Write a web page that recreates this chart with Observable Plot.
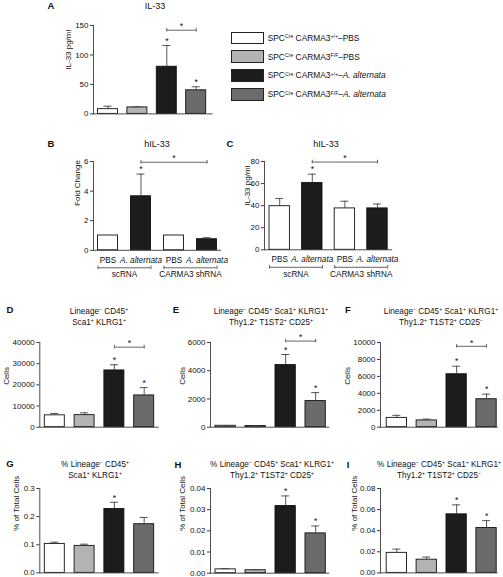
<!DOCTYPE html>
<html><head><meta charset="utf-8">
<script src="https://cdn.jsdelivr.net/npm/d3@7"></script>
<script src="https://cdn.jsdelivr.net/npm/@observablehq/plot@0.6"></script>
<style>
body{margin:0;background:#fff;}
#fig{position:relative;width:503px;height:577px;overflow:hidden;background:#fff;font-family:'Liberation Sans',Arial,Helvetica,sans-serif;color:#111;}
.lab{position:absolute;white-space:nowrap;}
.letter{font-weight:bold;font-size:9.5px;line-height:1;transform:translate(-50%,-50%);}
.title{font-size:8.2px;line-height:11px;text-align:center;transform:translateX(-50%);}
.title.big{font-size:9px;}
sup{font-size:0.62em;vertical-align:0;position:relative;top:-0.5em;line-height:0;}
.leg{font-size:8.4px;line-height:1;transform:translateY(-50%);}
.sw{position:absolute;border:1px solid #222;box-sizing:border-box;}
.pbox{position:absolute;}
</style></head><body><div id="fig"></div><script>
// ---------- data ----------
const mouseCats = ["WT-PBS", "FF-PBS", "WT-Alt", "FF-Alt"];
const legendLabels = ["SPC^{Cre} CARMA3^{+/+}–PBS", "SPC^{Cre} CARMA3^{F/F}–PBS", "SPC^{Cre} CARMA3^{+/+}–_{A. alternata}", "SPC^{Cre} CARMA3^{F/F}–_{A. alternata}"];
const mouseFills = ["#ffffff", "#b3b3b3", "#1c1c1c", "#6b6b6b"];

const cellCats = ["sc-PBS", "sc-Alt", "sh-PBS", "sh-Alt"];
const cellTickLabels = ["PBS", "A. alternata", "PBS", "A. alternata"];
const cellTickItalic = [false, true, false, true];
const cellGroups = ["scRNA", "CARMA3 shRNA"];
const cellGroupFirst = [0, 2];
const cellFills = ["#ffffff", "#1c1c1c", "#ffffff", "#1c1c1c"];

const aMean = [8, 11, 80, 40];        const aErr = [5, 1, 36, 6];
const aStar = [0, 0, 1, 1];           const aBracket = [2, 3, 142];
const aTicks = [0, 50, 100, 150];

const bMean = [1, 3.65, 1, 0.75];     const bErr = [0, 1.5, 0, 0.1];
const bStar = [0, 1, 0, 0];           const bBracket = [1, 3, 5.95];
const bTicks = [0, 2, 4, 6];

const cMean = [39.5, 60.5, 37.5, 37.5]; const cErr = [7, 8, 6.5, 4];
const cStar = [0, 1, 0, 0];           const cBracket = [1, 3, 79.5];
const cTicks = [0, 20, 40, 60, 80];

const dMean = [5600, 5700, 26800, 15000]; const dErr = [900, 1100, 2700, 3700];
const dStar = [0, 0, 1, 1];           const dBracket = [2, 3, 37800];
const dTicks = [0, 10000, 20000, 30000, 40000];

const eMean = [100, 80, 4400, 1850];  const eErr = [10, 10, 750, 600];
const eStar = [0, 0, 1, 1];           const eBracket = [2, 3, 6100];
const eTicks = [0, 2000, 4000, 6000];

const fMean = [1100, 800, 6250, 3300]; const fErr = [300, 150, 950, 600];
const fStar = [0, 0, 1, 1];           const fBracket = [2, 3, 9550];
const fTicks = [0, 2000, 4000, 6000, 8000, 10000];

const gMean = [0.103, 0.096, 0.227, 0.173]; const gErr = [0.006, 0.006, 0.024, 0.024];
const gStar = [0, 0, 1, 0];
const gTicks = [0, 0.1, 0.2, 0.3];

const hMean = [0.0018, 0.0014, 0.0317, 0.0188]; const hErr = [0.0004, 0.0003, 0.0048, 0.0035];
const hStar = [0, 0, 1, 1];
const hTicks = [0, 0.01, 0.02, 0.03, 0.04];

const iMean = [0.019, 0.0125, 0.0555, 0.0425]; const iErr = [0.0035, 0.0025, 0.009, 0.007];
const iStar = [0, 0, 1, 1];
const iTicks = [0, 0.02, 0.04, 0.06, 0.08];

const titles = {
  A: "IL-33", B: "hIL-33", C: "hIL-33",
  D: "Lineage^{−} CD45^{+}\nSca1^{+} KLRG1^{+}",
  E: "Lineage^{−} CD45^{+} Sca1^{+} KLRG1^{+}\nThy1.2^{+} T1ST2^{+} CD25^{+}",
  F: "Lineage^{−} CD45^{+} Sca1^{+} KLRG1^{+}\nThy1.2^{+} T1ST2^{+} CD25^{−}",
  G: "% Lineage^{−} CD45^{+}\nSca1^{+} KLRG1^{+}",
  H: "% Lineage^{−} CD45^{+} Sca1^{+} KLRG1^{+}\nThy1.2^{+} T1ST2^{+} CD25^{+}",
  I: "% Lineage^{−} CD45^{+} Sca1^{+} KLRG1^{+}\nThy1.2^{+} T1ST2^{+} CD25^{−}"
};
const yLabels = {A: "IL-33 pg/ml", B: "Fold Change", C: "IL-33 pg/ml", D: "Cells", E: "Cells", F: "Cells",
  G: "% of Total Cells", H: "% of Total Cells", I: "% of Total Cells"};

// ---------- helpers ----------
const FONT = "'Liberation Sans', Arial, Helvetica, sans-serif";
const fig = document.getElementById("fig");
function md(s) {
  return s.replace(/\^\{([^}]*)\}/g, "<sup>$1</sup>").replace(/_\{([^}]*)\}/g, "<i>$1</i>").replace(/\n/g, "<br>");
}
function label(html, x, y, cls) {
  const d = document.createElement("div");
  d.className = "lab " + cls;
  d.style.left = x + "px"; d.style.top = y + "px";
  d.innerHTML = html;
  fig.appendChild(d);
}

function panel(cfg) {
  const {fx, fy0, fy1, step, bw, gl, gr, domain, ticks, fmt, cats, means, errs, fills, stars, bracket, ylab, ylabOff, xlab} = cfg;
  const W = 3 * step + bw + gl + gr;
  const H = fy1 - fy0;
  const ml = Math.min(60, fx), mr = 14, mt = 26, mb = 40;
  const data = cats.map((c, i) => ({c, v: means[i], e: errs[i], f: fills[i], s: stars[i], i}));
  const withErr = data.filter(d => d.e > 0);
  const ax = "#3a3a3a";
  const marks = [
    Plot.barY(data, {x: "c", y: "v", fill: "f", stroke: "#111", strokeWidth: 0.9}),
    Plot.ruleX(withErr, {x: "c", y1: "v", y2: d => d.v + d.e, stroke: "#444", strokeWidth: 0.9}),
    Plot.tickY(withErr, {x: "c", y: d => d.v + d.e, stroke: "#444", strokeWidth: 0.9, insetLeft: (bw - 8) / 2, insetRight: (bw - 8) / 2}),
    Plot.text(data.filter(d => d.s), {x: "c", y: d => d.v + d.e, text: () => "*", dy: -4.5, fontSize: 8.5, fill: "#111"}),
    Plot.ruleY([0], {stroke: ax, strokeWidth: 0.9}),
    Plot.frame({anchor: "left", stroke: ax, strokeWidth: 0.9}),
    Plot.axisY({ticks, tickFormat: fmt, tickSize: 3, tickPadding: 2, fontSize: 8, label: null, stroke: ax}),
    Plot.text([ylab], {frameAnchor: "left", rotate: -90, dx: -ylabOff, fontSize: 8, fill: "#111"})
  ];
  if (bracket) {
    const [a, b, h] = bracket;
    const bd = [{c: cats[a], y: h}, {c: cats[b], y: h}];
    marks.push(
      Plot.line(bd, {x: "c", y: "y", stroke: "#555", strokeWidth: 0.9}),
      Plot.ruleX(bd, {x: "c", y1: "y", y2: "y", insetTop: -1.8, insetBottom: -1.8, stroke: "#555", strokeWidth: 0.9}),
      Plot.text([bd[0]], {x: "c", y: "y", text: () => "*", dx: (b - a) * step / 2, dy: -3.5, fontSize: 8.5, fill: "#111"})
    );
  }
  if (xlab) {
    const td = cats.map((c, i) => ({c, t: cellTickLabels[i], it: cellTickItalic[i]}));
    const gd = cellGroups.map((g, k) => ({g, a: cats[cellGroupFirst[k]], b: cats[cellGroupFirst[k] + 1]}));
    marks.push(
      Plot.text(td.filter(d => !d.it), {x: "c", y: () => 0, text: "t", dy: 10, fontSize: 8.2, fill: "#111"}),
      Plot.text(td.filter(d => d.it), {x: "c", y: () => 0, text: "t", dy: 10, fontSize: 8.2, fontStyle: "italic", fill: "#111"}),
      Plot.ruleY(gd, {x1: "a", x2: "b", y: () => 0, dy: 17.5, stroke: "#555", strokeWidth: 0.9}),
      Plot.ruleX(gd, {x: "a", y1: () => 0, y2: () => 0, dy: 17.5, dx: -bw / 2, insetTop: -1.8, insetBottom: -1.8, stroke: "#555", strokeWidth: 0.9}),
      Plot.ruleX(gd, {x: "b", y1: () => 0, y2: () => 0, dy: 17.5, dx: bw / 2, insetTop: -1.8, insetBottom: -1.8, stroke: "#555", strokeWidth: 0.9}),
      Plot.text(gd, {x: "a", y: () => 0, text: "g", dx: step / 2, dy: 24.5, fontSize: 8.2, fill: "#111"})
    );
  }
  const chart = Plot.plot({
    width: ml + W + mr, height: mt + H + mb,
    marginLeft: ml, marginRight: mr, marginTop: mt, marginBottom: mb,
    style: {fontFamily: FONT, fontSize: "8px", background: "transparent", overflow: "visible", color: "#111"},
    x: {type: "band", domain: cats, paddingInner: (step - bw) / step, paddingOuter: (gl + gr) / (2 * step), align: gl / (gl + gr), round: false, axis: null},
    y: {domain, nice: false, axis: null},
    color: {type: "identity"},
    marks
  });
  const box = document.createElement("div");
  box.className = "pbox";
  box.style.left = (fx - ml) + "px";
  box.style.top = (fy0 - mt) + "px";
  box.style.width = (ml + W + mr) + "px";
  box.appendChild(chart);
  fig.appendChild(box);
}

// ---------- layout ----------
const f0 = d => String(d);
const f1 = d3.format(".1f"), f2 = d3.format(".2f");
panel({fx: 92.5, fy0: 25.3, fy1: 113.7, step: 29.4, bw: 20, gl: 4.5, gr: 7, domain: [0, 150], ticks: aTicks, fmt: f0,
  cats: mouseCats, means: aMean, errs: aErr, fills: mouseFills, stars: aStar, bracket: aBracket, ylab: yLabels.A, ylabOff: 25.5});
panel({fx: 92.5, fy0: 160.5, fy1: 249.3, step: 33, bw: 20, gl: 4.5, gr: 4.5, domain: [0, 6], ticks: bTicks, fmt: f0,
  cats: cellCats, means: bMean, errs: bErr, fills: cellFills, stars: bStar, bracket: bBracket, ylab: yLabels.B, ylabOff: 16.5, xlab: true});
panel({fx: 264, fy0: 161, fy1: 249.3, step: 32.6, bw: 20.4, gl: 5, gr: 5, domain: [0, 80], ticks: cTicks, fmt: f0,
  cats: cellCats, means: cMean, errs: cErr, fills: cellFills, stars: cStar, bracket: cBracket, ylab: yLabels.C, ylabOff: 17, xlab: true});
panel({fx: 39.3, fy0: 342, fy1: 426.7, step: 29.8, bw: 20, gl: 5, gr: 5, domain: [0, 40000], ticks: dTicks, fmt: f0,
  cats: mouseCats, means: dMean, errs: dErr, fills: mouseFills, stars: dStar, bracket: dBracket, ylab: yLabels.D, ylabOff: 33});
panel({fx: 210, fy0: 342, fy1: 426.7, step: 30, bw: 20.3, gl: 5, gr: 4, domain: [0, 6000], ticks: eTicks, fmt: f0,
  cats: mouseCats, means: eMean, errs: eErr, fills: mouseFills, stars: eStar, bracket: eBracket, ylab: yLabels.E, ylabOff: 28.5});
panel({fx: 379.5, fy0: 342, fy1: 426.7, step: 29.9, bw: 20.3, gl: 6.2, gr: 1.5, domain: [0, 10000], ticks: fTicks, fmt: f0,
  cats: mouseCats, means: fMean, errs: fErr, fills: mouseFills, stars: fStar, bracket: fBracket, ylab: yLabels.F, ylabOff: 33.5});
panel({fx: 39.3, fy0: 488.3, fy1: 572.7, step: 29.8, bw: 20, gl: 5, gr: 5, domain: [0, 0.3], ticks: gTicks, fmt: f1,
  cats: mouseCats, means: gMean, errs: gErr, fills: mouseFills, stars: gStar, bracket: null, ylab: yLabels.G, ylabOff: 23.5});
panel({fx: 210, fy0: 488, fy1: 572.7, step: 30, bw: 20.3, gl: 5, gr: 4, domain: [0, 0.04], ticks: hTicks, fmt: f2,
  cats: mouseCats, means: hMean, errs: hErr, fills: mouseFills, stars: hStar, bracket: null, ylab: yLabels.H, ylabOff: 27.7});
panel({fx: 379.5, fy0: 488.3, fy1: 572.7, step: 29.9, bw: 20.3, gl: 6.2, gr: 1.5, domain: [0, 0.08], ticks: iTicks, fmt: f2,
  cats: mouseCats, means: iMean, errs: iErr, fills: mouseFills, stars: iStar, bracket: null, ylab: yLabels.I, ylabOff: 26});

// panel letters
[["A", 51, 6], ["B", 51, 144], ["C", 230, 144], ["D", 10, 310], ["E", 176, 310], ["F", 348, 310],
 ["G", 10, 464], ["H", 178, 465], ["I", 348, 465]].forEach(([k, x, y]) => label(k, x, y, "letter"));
// titles
[["A", 155, 0.5, true], ["B", 157, 138.5, true], ["C", 326, 138.5, true], ["D", 99, 305.5], ["E", 271, 305.5], ["F", 441, 305.5],
 ["G", 95, 459], ["H", 272, 459], ["I", 439, 459]].forEach(([k, x, y, big]) => label(md(titles[k]), x, y, "title" + (big ? " big" : "")));
// legend
const swTops = [31.7, 50.3, 69, 88];
legendLabels.forEach((t, i) => {
  const s = document.createElement("div");
  s.className = "sw";
  s.style.left = "230.7px"; s.style.top = swTops[i] + "px";
  s.style.width = "33.3px"; s.style.height = "12.6px";
  s.style.background = mouseFills[i];
  fig.appendChild(s);
  label(md(t), 267.7, swTops[i] + 6.3, "leg");
});
</script></body></html>
